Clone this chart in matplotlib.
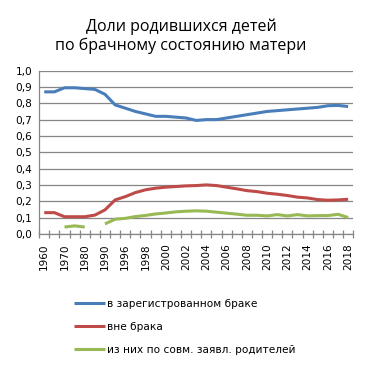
import numpy as np
import matplotlib.pyplot as plt
from matplotlib.ticker import FixedLocator, FuncFormatter

# годы (категории оси X)
years = ['1960', '1965', '1970', '1975', '1980', '1985', '1990', '1995'] + \
        [str(y) for y in range(1996, 2019)]

# в зарегистрованном браке
married = [0.87, 0.87, 0.895, 0.895, 0.89, 0.885, 0.855, 0.79, 0.77, 0.75,
           0.735, 0.72, 0.72, 0.715, 0.71, 0.695, 0.70, 0.70, 0.71, 0.72,
           0.73, 0.74, 0.75, 0.755, 0.76, 0.765, 0.77, 0.775, 0.785, 0.787, 0.78]
# вне брака
unmarried = [0.13, 0.13, 0.105, 0.105, 0.105, 0.115, 0.147, 0.208, 0.228, 0.253,
             0.27, 0.28, 0.286, 0.29, 0.294, 0.296, 0.30, 0.296, 0.286, 0.276,
             0.265, 0.259, 0.249, 0.243, 0.235, 0.225, 0.22, 0.21, 0.206, 0.208, 0.212]
# из них по совм. заявл. родителей
joint = [np.nan, np.nan, 0.042, 0.049, 0.042, np.nan, 0.061, 0.09, 0.095, 0.106,
         0.113, 0.122, 0.128, 0.135, 0.139, 0.141, 0.139, 0.133, 0.127, 0.121,
         0.114, 0.114, 0.11, 0.118, 0.11, 0.118, 0.11, 0.112, 0.112, 0.12, 0.10]

labels = ['в зарегистрованном браке', 'вне брака', 'из них по совм. заявл. родителей']
colors = ['#4A7EBB', '#BE4B48', '#98B954']

plt.rcParams['font.family'] = ['DejaVu Sans']

fig = plt.figure(figsize=(3.66, 3.66), dpi=100)
ax = fig.add_axes([0.107, 0.361, 0.858, 0.446])

x = np.arange(len(years))
for vals, lab, c in zip([married, unmarried, joint], labels, colors):
    ax.plot(x, vals, color=c, lw=2.2, label=lab, solid_capstyle='butt')

ax.set_ylim(0, 1.0)
ax.set_xlim(-0.5, len(years) - 0.5)
ax.set_yticks(np.arange(0, 1.01, 0.1))
ax.yaxis.set_major_formatter(FuncFormatter(lambda v, p: f'{v:.1f}'.replace('.', ',')))
ax.grid(axis='y', color='#868686', lw=0.9)
ax.set_axisbelow(True)

# подписи через одну категорию, засечки между категориями
ax.set_xticks(x[::2])
ax.set_xticklabels(years[::2], rotation='vertical')
ax.xaxis.set_minor_locator(FixedLocator(np.arange(-0.5, len(years), 1)))
ax.tick_params(axis='x', which='major', length=0, pad=7, labelsize=7.6)
ax.tick_params(axis='x', which='minor', length=6, direction='inout', color='#868686', width=0.9)
ax.tick_params(axis='y', length=0, labelsize=7.6, pad=5)
for t in ax.get_xticklabels():
    t.set_rotation(90)

for s in ['top', 'right']:
    ax.spines[s].set_visible(False)
for s in ['left', 'bottom']:
    ax.spines[s].set_color('#868686')
    ax.spines[s].set_linewidth(0.9)

fig.text(0.495, 0.95, 'Доли родившихся детей\nпо брачному состоянию матери',
         ha='center', va='top', fontsize=11.5, family=['Open Sans'], linespacing=1.25)

fig.legend(loc='upper left', bbox_to_anchor=(0.175, 0.21), frameon=False,
           fontsize=7.6, handlelength=3.0, handletextpad=0.15, labelspacing=1.25)

fig.savefig('out.png', dpi=100)
